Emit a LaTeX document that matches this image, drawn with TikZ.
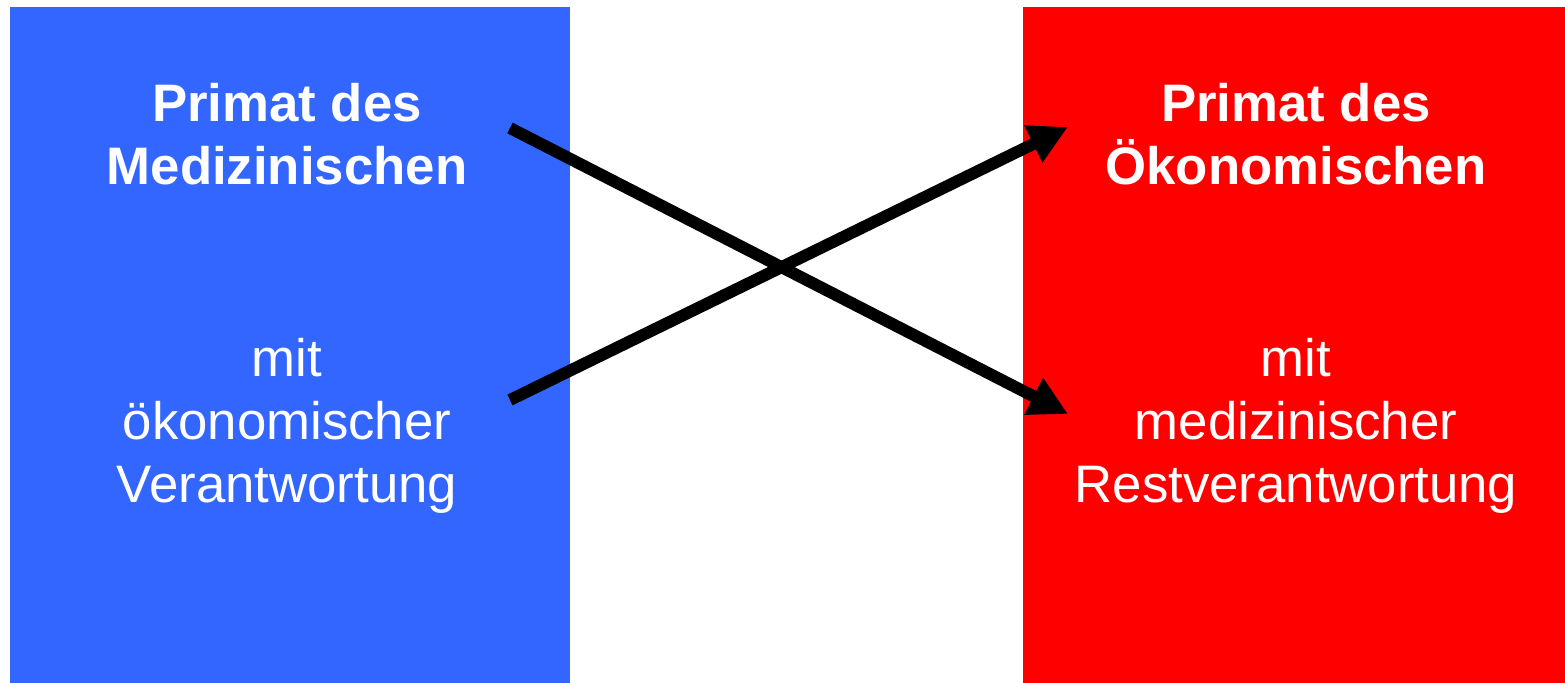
\documentclass[tikz,border=0pt]{standalone}
\usepackage{fontspec}
\setmainfont{Liberation Sans}
\usetikzlibrary{arrows.meta}
\definecolor{panelblue}{HTML}{3366FF}
\definecolor{panelred}{HTML}{FF0000}
\tikzset{
  panel/.style={draw=none, inner sep=0pt},
  headline/.style={text=white, font=\fontsize{15}{18}\selectfont\bfseries, anchor=base, inner sep=0pt},
  bodyline/.style={text=white, font=\fontsize{15}{18}\selectfont, anchor=base, inner sep=0pt},
  bigarrow/.style={line width=3.4pt, -{Triangle[length=11pt,width=11pt]}, black}
}
\begin{document}
\begin{tikzpicture}[x=0.01cm,y=-0.01cm]
\useasboundingbox (0,0) rectangle (1565,683);
\fill[panelblue] (10,7) rectangle (570,683);
\fill[panelred] (1023,7) rectangle (1565,683);
% left texts
\node[headline] (l1) at (287,122) {Primat des};
\node[headline] (l2) at (287,185) {Medizinischen};
\node[bodyline] (l3) at (287,377) {mit};
\node[bodyline] (l4) at (287,440) {ökonomischer};
\node[bodyline] (l5) at (287,503) {Verantwortung};
% right texts
\node[headline] (r1) at (1296,122) {Primat des};
\node[headline] (r2) at (1296,185) {Ökonomischen};
\node[bodyline] (r3) at (1296,377) {mit};
\node[bodyline] (r4) at (1296,440) {medizinischer};
\node[bodyline] (r5) at (1296,503) {Restverantwortung};
% arrows
\coordinate (a1s) at (510,128);
\coordinate (a1e) at (1068,414);
\coordinate (a2s) at (510,400);
\coordinate (a2e) at (1068,127);
\draw[bigarrow] (a1s) -- (a1e);
\draw[bigarrow] (a2s) -- (a2e);
\end{tikzpicture}
\end{document}
